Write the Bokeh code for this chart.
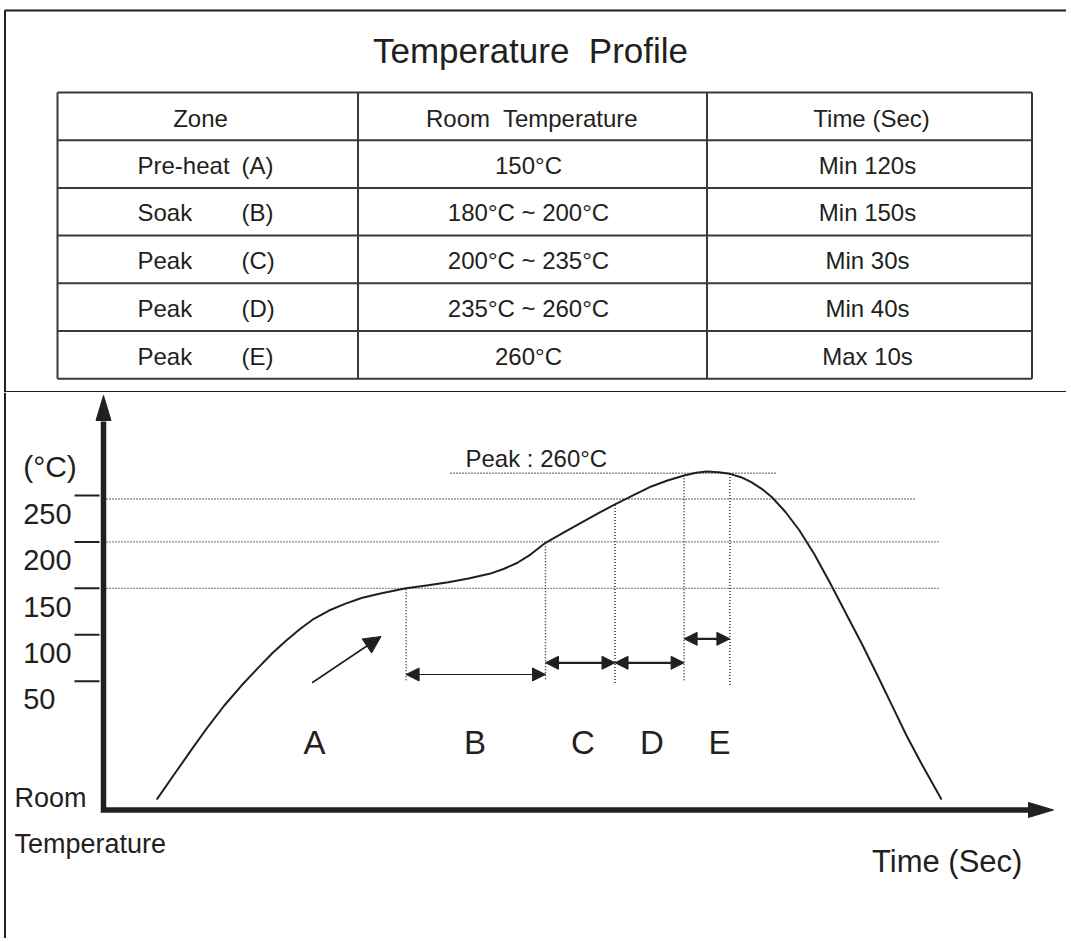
from bokeh.plotting import figure
from bokeh.models import Range1d, ColumnDataSource, Arrow, NormalHead
from bokeh.layouts import column
from bokeh.core.properties import value
from bokeh.embed import file_html
from bokeh.resources import INLINE

INK = "#231f20"
RULE = "#3a3a3a"
FONT = value("Liberation Sans")
NB = "\u00a0"

# ---------------- data ----------------
TITLE = "Temperature" + NB + " Profile"
HEADERS = ["Zone", "Room" + NB + " Temperature", "Time (Sec)"]
ZONE_NAMES = ["Pre-heat", "Soak", "Peak", "Peak", "Peak"]
ZONE_CODES = ["(A)", "(B)", "(C)", "(D)", "(E)"]
ZONE_TEMPS = ["150°C", "180°C ~ 200°C", "200°C ~ 235°C", "235°C ~ 260°C", "260°C"]
ZONE_TIMES = ["Min 120s", "Min 150s", "Min 30s", "Min 40s", "Max 10s"]

# reflow curve (schematic time units, °C on the drawn scale)
TIME = [53.7, 72.0, 89.8, 105.0, 120.8, 138.0, 155.3, 169.0, 182.8, 196.5,
        210.4, 225.5, 241.4, 258.0, 275.8, 289.0, 302.6, 323.0, 344.7, 365.0,
        386.0, 400.0, 413.5, 427.0, 442.0, 460.0, 478.8, 495.0, 511.5, 529.5,
        547.8, 564.0, 580.6, 592.6, 603.0, 615.0, 626.4, 637.5, 647.8, 658.2,
        668.5, 682.0, 696.0, 711.0, 727.0, 742.5, 758.3, 774.0, 789.3, 803.0,
        818.0, 837.6]
TEMP = [-76.7, -48.4, -21.1, 1.7, 23.8, 45.3, 65.1, 80.3, 93.8, 106.2,
        117.2, 126.1, 133.3, 139.6, 144.1, 147.1, 150.0, 153.0, 156.6, 160.6,
        165.6, 170.8, 177.3, 186.4, 199.0, 210.1, 221.2, 231.1, 240.3, 250.0,
        259.7, 266.1, 271.5, 274.4, 275.8, 275.1, 273.3, 269.7, 264.3, 257.2,
        248.1, 232.2, 212.3, 186.4, 154.9, 122.9, 90.3, 56.1, 22.0, -8.5,
        -39.0, -76.7]

TICKS = [50, 100, 150, 200, 250]
TICK_LABELS = ["50", "100", "150", "200", "250"]
UNIT_LABEL = "(°C)"
ROOM_LEVEL = -88.7

GUIDE_LEVELS = [150, 200, 246.2]
GUIDE_ENDS = [836, 836, 813]
PEAK_LEVEL = 274.0
PEAK_SPAN = [347, 672]
PEAK_LABEL = "Peak : 260°C"

ZONE_EDGES = [302.6, 442.0, 511.5, 580.6, 626.4]
EDGE_TOP = [150.0, 199.0, 240.3, 271.5, 273.3]
EDGE_BOTTOM = [51, 52, 48, 51, 46]

SPAN_START = [302.6, 442.0, 511.5, 580.6]
SPAN_END = [442.0, 511.5, 580.6, 626.4]
SPAN_LEVEL = [57.2, 69.8, 69.8, 95.6]

ZONE_LETTERS = ["A", "B", "C", "D", "E"]
LETTER_TIME = [211.0, 371.5, 479.5, 548.5, 616.0]
LETTER_LEVEL = -16.0

RAMP_ARROW = [208.6, 48.3, 277.5, 98.1]

# ---------------- layout constants (pixels) ----------------
W = 1066
TOP_H = 392
BOT_H = 546
PAGE0 = 0

# ================= top panel : title + table =================
top = figure(width=W, height=TOP_H, x_range=Range1d(PAGE0, PAGE0 + W),
             y_range=Range1d(PAGE0 + TOP_H, PAGE0), x_axis_type=None, y_axis_type=None,
             output_backend="svg", toolbar_location=None, min_border=0,
             outline_line_color=None, background_fill_color="white",
             border_fill_color="white")
top.grid.visible = False

# frame lines
top.segment(x0=[PAGE0 + 4, 4.5], y0=[10, 10], x1=[PAGE0 + W, 4.5], y1=[10, PAGE0 + TOP_H],
            line_color=INK, line_width=2)
top.segment(x0=[4.5], y0=[391.2], x1=[PAGE0 + W], y1=[391.2], line_color=INK, line_width=1.5)

top.text(x=[530], y=[50.3], text=[TITLE], text_font=FONT, text_font_size="35px",
         text_align="center", text_baseline="middle", text_color=INK)

COL_EDGES = [57, 357.5, 706.5, 1031.5]
TABLE_TOP = 92.0
ROW_H = 47.7
n_rows = 1 + len(ZONE_NAMES)
row_tops = [TABLE_TOP + i * ROW_H for i in range(n_rows)]
table_bottom = TABLE_TOP + n_rows * ROW_H

hy = [TABLE_TOP + i * ROW_H for i in range(n_rows + 1)]
top.segment(x0=[COL_EDGES[0]] * len(hy), x1=[COL_EDGES[-1]] * len(hy), y0=hy, y1=hy,
            line_color=RULE, line_width=2)
top.segment(x0=COL_EDGES, x1=COL_EDGES, y0=[TABLE_TOP] * 4, y1=[table_bottom] * 4,
            line_color=RULE, line_width=2)

MID = 25.0
tf = dict(text_font=FONT, text_font_size="24px", text_color=INK, text_baseline="middle")
top.text(x=[200, 531.5, 871], y=[row_tops[0] + MID + 1] * 3, text=HEADERS, text_align="center", **tf)
body_y = [rt + MID for rt in row_tops[1:]]
top.text(x=[137] * len(ZONE_NAMES), y=body_y, text=ZONE_NAMES, text_align="left", **tf)
top.text(x=[241] * len(ZONE_CODES), y=body_y, text=ZONE_CODES, text_align="left", **tf)
top.text(x=[528] * len(ZONE_TEMPS), y=body_y, text=ZONE_TEMPS, text_align="center", **tf)
top.text(x=[867] * len(ZONE_TIMES), y=body_y, text=ZONE_TIMES, text_align="center", **tf)

# ================= bottom panel : profile chart =================
PX_PER_DEG = 0.9285      # vertical pixels per degree on the drawn scale
ZERO_PAGE_Y = 727.1      # page y of 0 °C
AXIS_PAGE_X = 103.0      # page x of time origin
top_page = PAGE0 + TOP_H
y_hi = (ZERO_PAGE_Y - top_page) / PX_PER_DEG
y_lo = (ZERO_PAGE_Y - (top_page + BOT_H)) / PX_PER_DEG
x_lo = PAGE0 - AXIS_PAGE_X

bot = figure(width=W, height=BOT_H, x_range=Range1d(x_lo, x_lo + W),
             y_range=Range1d(y_lo, y_hi), x_axis_type=None, y_axis_type=None,
             output_backend="svg", toolbar_location=None, min_border=0,
             outline_line_color=None, background_fill_color="white",
             border_fill_color="white")
bot.grid.visible = False

# left frame line
bot.segment(x0=[x_lo + 4.5], x1=[x_lo + 4.5], y0=[y_lo], y1=[y_hi], line_color=INK, line_width=2)

# guide lines (dotted)
dot = dict(line_color=INK, line_width=1.4, line_dash="1 2")
bot.segment(x0=[3] * len(GUIDE_LEVELS), x1=GUIDE_ENDS, y0=GUIDE_LEVELS, y1=GUIDE_LEVELS, **dot)
bot.segment(x0=[PEAK_SPAN[0]], x1=[PEAK_SPAN[1]], y0=[PEAK_LEVEL], y1=[PEAK_LEVEL], **dot)
bot.segment(x0=ZONE_EDGES, x1=ZONE_EDGES, y0=EDGE_BOTTOM, y1=EDGE_TOP, **dot)

# axes with arrow heads
Y_TIP_PX = 395.0
X_TIP = 950.0
HEAD_LEN = 25.0
HEAD_HALF = 7.5
y_tip = (ZERO_PAGE_Y - Y_TIP_PX) / PX_PER_DEG
y_base = y_tip - HEAD_LEN / PX_PER_DEG
x_base = X_TIP - HEAD_LEN
bot.line(x=[0, 0, x_base + 1], y=[y_base - 1, ROOM_LEVEL, ROOM_LEVEL],
         line_color=INK, line_width=5.5, line_join="miter")
hh = HEAD_HALF / PX_PER_DEG
bot.patches(xs=[[-HEAD_HALF, 0, HEAD_HALF], [x_base, X_TIP, x_base]],
            ys=[[y_base, y_tip, y_base], [ROOM_LEVEL - hh, ROOM_LEVEL, ROOM_LEVEL + hh]],
            fill_color=INK, line_color=INK, line_width=1)

# ticks and labels
bot.segment(x0=[-29] * len(TICKS), x1=[-4] * len(TICKS), y0=TICKS, y1=TICKS,
            line_color=INK, line_width=2)
txt = dict(text_font=FONT, text_baseline="middle", text_color=INK)
bot.text(x=[-80.3] * len(TICKS), y=[t - 19.7 for t in TICKS], text=TICK_LABELS,
         text_font_size="29px", text_align="left", **txt)
bot.text(x=[-80.3], y=[281.2], text=[UNIT_LABEL], text_font_size="30px",
         text_align="left", **txt)
bot.text(x=[-89, -89], y=[-75.5, -125.1], text=["Room", "Temperature"],
         text_font_size="27px", text_align="left", **txt)
bot.text(x=[843.7], y=[-144.2], text=["Time (Sec)"], text_font_size="31px",
         text_align="center", **txt)
bot.text(x=[362], y=[289.5], text=[PEAK_LABEL], text_font_size="24px",
         text_align="left", **txt)
bot.text(x=LETTER_TIME, y=[LETTER_LEVEL] * len(ZONE_LETTERS), text=ZONE_LETTERS,
         text_font_size="33px", text_align="center", **txt)

# the profile curve
bot.line(x=TIME, y=TEMP, line_color=INK, line_width=2, line_join="round", line_cap="round")

# zone span arrows
def head(size):
    return NormalHead(size=size, fill_color=INK, line_color=INK, line_width=1)

src_b = ColumnDataSource(dict(x0=SPAN_START[:1], x1=SPAN_END[:1], y=SPAN_LEVEL[:1]))
src_cde = ColumnDataSource(dict(x0=SPAN_START[1:], x1=SPAN_END[1:], y=SPAN_LEVEL[1:]))
bot.add_layout(Arrow(start=head(13), end=head(13), source=src_b, x_start="x0", y_start="y",
                     x_end="x1", y_end="y", line_color=INK, line_width=1.2))
bot.add_layout(Arrow(start=head(13), end=head(13), source=src_cde, x_start="x0", y_start="y",
                     x_end="x1", y_end="y", line_color=INK, line_width=2.2))
bot.add_layout(Arrow(end=head(17), x_start=RAMP_ARROW[0], y_start=RAMP_ARROW[1],
                     x_end=RAMP_ARROW[2], y_end=RAMP_ARROW[3], line_color=INK, line_width=1.6))

layout = column(top, bot, spacing=0)
open("out.html", "w").write(file_html(layout, INLINE))
